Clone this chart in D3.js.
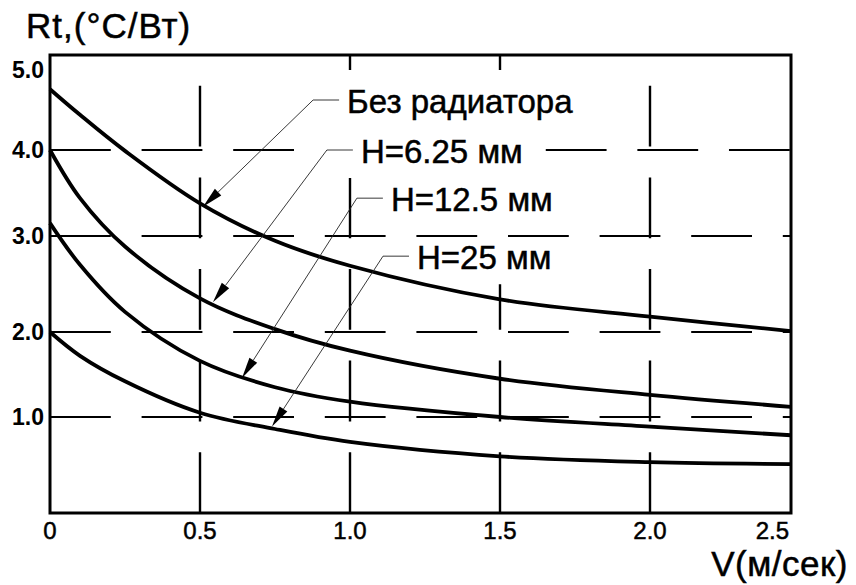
<!DOCTYPE html>
<html><head><meta charset="utf-8">
<script src="https://cdn.jsdelivr.net/npm/d3@7/dist/d3.min.js"></script>
<style>
html,body{margin:0;padding:0;background:#fff;}
svg{display:block;font-family:"Liberation Sans",Arial,sans-serif;}
</style></head>
<body><svg id="c" width="856" height="585"></svg>
<script>
// ---- data ----
const speeds = [0, 0.1, 0.25, 0.5, 0.75, 1.0, 1.5, 2.0, 2.47];
const seriesNames = ["Без радиатора", "H=6.25 мм", "H=12.5 мм", "H=25 мм"];
const noSink  = [4.76, 4.44, 3.99, 3.38, 2.95, 2.69, 2.34, 2.16, 2.01];
const h625    = [4.00, 3.44, 2.89, 2.35, 2.03, 1.78, 1.45, 1.26, 1.12];
const h125    = [3.15, 2.70, 2.21, 1.66, 1.35, 1.18, 1.00, 0.90, 0.81];
const h25     = [2.00, 1.72, 1.42, 1.05, 0.875, 0.74, 0.59, 0.53, 0.51];
const xTickValues = [0, 0.5, 1.0, 1.5, 2.0, 2.5];
const xTickLabels = ["0", "0.5", "1.0", "1.5", "2.0", "2.5"];
const yTickValues = [1, 2, 3, 4, 5];
const yTickLabels = ["1.0", "2.0", "3.0", "4.0", "5.0"];
const xGridValues = [0.5, 1.0, 1.5, 2.0];
const yGridValues = [1, 2, 3, 4];
// annotation anchors (data space): arrow tip on curve and leader elbow
const tipV   = [0.51, 0.543, 0.64, 0.74];
const tipR   = [3.34, 2.31, 1.46, 0.90];
const elbowV = [0.877, 0.923, 1.023, 1.11];
const elbowR = [4.625, 4.0, 3.44, 2.79];
const yTitle = "Rt,(°C/Вт)";
const xTitle = "V(м/сек)";
const xMax = 2.47;

// ---- layout ----
const L = 50, R = 791, T = 55, B = 513;
const svg = d3.select("#c");
const x = d3.scaleLinear().domain([0, xMax]).range([L, R]);
const y = d3.scaleLinear().domain([0, 1, 2, 3, 4, 5]).range([513, 417, 332, 236, 150, 70]);
const allSeries = [noSink, h625, h125, h25];

// annotation text first (to measure)
const annG = svg.append("g");
const boxesV = [], boxesH = [];
const ann = seriesNames.map((name, i) => {
  const ex = x(elbowV[i]), ey = y(elbowR[i]);
  const t = annG.append("text").attr("x", ex + 34).attr("y", ey + 12.5)
    .attr("font-size", 33).attr("fill", "#000")
    .attr("stroke", "#000").attr("stroke-width", 0.5).text(name);
  const tw = t.node().getComputedTextLength();
  const x0 = ex - 6, x1 = ex + 34 + tw + 23;
  boxesV.push([x0, x1, ey - 30, ey + 28]);
  boxesH.push([x0, x1, ey - 14, ey + 14]);
  return {ex, ey, tx: x(tipV[i]), ty: y(tipR[i])};
});

function subtract(intervals, cuts) {
  let res = intervals;
  cuts.forEach(([a, b]) => {
    const nxt = [];
    res.forEach(([s, e]) => {
      if (b <= s || a >= e) { nxt.push([s, e]); return; }
      if (a > s) nxt.push([s, a]);
      if (b < e) nxt.push([b, e]);
    });
    res = nxt;
  });
  return res;
}

const gridG = svg.insert("g", ":first-child");
const dash = "60.8,30.8";
yGridValues.forEach(v => {
  const yy = y(v);
  const cuts = boxesH.filter(b => yy >= b[2] && yy <= b[3]).map(b => [b[0], b[1]]);
  subtract([[L, R]], cuts).forEach(([s, e]) => {
    gridG.append("line").attr("x1", s).attr("x2", e).attr("y1", yy).attr("y2", yy)
      .attr("stroke", "#000").attr("stroke-width", 2.2).attr("stroke-dasharray", dash);
  });
});
xGridValues.forEach(v => {
  const xx = x(v);
  const cuts = boxesV.filter(b => xx >= b[0] && xx <= b[1]).map(b => [b[2], b[3]]);
  subtract([[T, B]], cuts).forEach(([s, e]) => {
    gridG.append("line").attr("x1", xx).attr("x2", xx).attr("y1", e).attr("y2", s)
      .attr("stroke", "#000").attr("stroke-width", 2.4).attr("stroke-dasharray", dash);
  });
});

// curves
const line = d3.line().x((d, i) => x(speeds[i])).y(d => y(d)).curve(d3.curveCatmullRom.alpha(0.5));
svg.append("g").selectAll("path").data(allSeries).join("path")
  .attr("d", d => line(d)).attr("fill", "none").attr("stroke", "#000")
  .attr("stroke-width", 3.8);

// frame
svg.append("rect").attr("x", L).attr("y", T).attr("width", R - L).attr("height", B - T)
  .attr("fill", "none").attr("stroke", "#000").attr("stroke-width", 3);

// leaders + arrowheads
const leadG = svg.append("g");
ann.forEach(a => {
  const dx = a.ex - a.tx, dy = a.ey - a.ty, len = Math.hypot(dx, dy);
  const ux = dx / len, uy = dy / len, px = -uy, py = ux;
  const al = 21, aw = 4.6;
  const bx = a.tx + ux * al, by = a.ty + uy * al;
  leadG.append("polyline")
    .attr("points", [[bx, by], [a.ex, a.ey], [a.ex + 26, a.ey]].map(p => p.join(",")).join(" "))
    .attr("fill", "none").attr("stroke", "#222").attr("stroke-width", 0.9);
  leadG.append("polygon")
    .attr("points", [[a.tx, a.ty], [bx + px * aw, by + py * aw], [bx - px * aw, by - py * aw]].map(p => p.join(",")).join(" "))
    .attr("fill", "#000");
});

// tick labels
svg.append("g").selectAll("text").data(xTickValues).join("text")
  .attr("x", v => v > xMax ? x(xMax) - 2 : x(v))
  .attr("y", 539).attr("text-anchor", v => v > xMax ? "end" : "middle")
  .attr("font-size", 24).attr("fill", "#000").attr("stroke", "#000").attr("stroke-width", 0.5)
  .text((v, i) => xTickLabels[i]);
svg.append("g").selectAll("text").data(yTickValues).join("text")
  .attr("x", 44).attr("y", v => y(v)).attr("dy", "0.36em").attr("text-anchor", "end")
  .attr("font-size", 23).attr("font-weight", "bold").attr("fill", "#000")
  .text((v, i) => yTickLabels[i]);

// axis titles
svg.append("text").attr("x", 26).attr("y", 38).attr("font-size", 35)
  .attr("letter-spacing", 1).attr("fill", "#000").attr("stroke", "#000").attr("stroke-width", 0.5)
  .text(yTitle);
svg.append("text").attr("x", 848).attr("y", 576).attr("text-anchor", "end")
  .attr("font-size", 35).attr("letter-spacing", 0.5).attr("fill", "#000").attr("stroke", "#000").attr("stroke-width", 0.5)
  .text(xTitle);
</script></body></html>
